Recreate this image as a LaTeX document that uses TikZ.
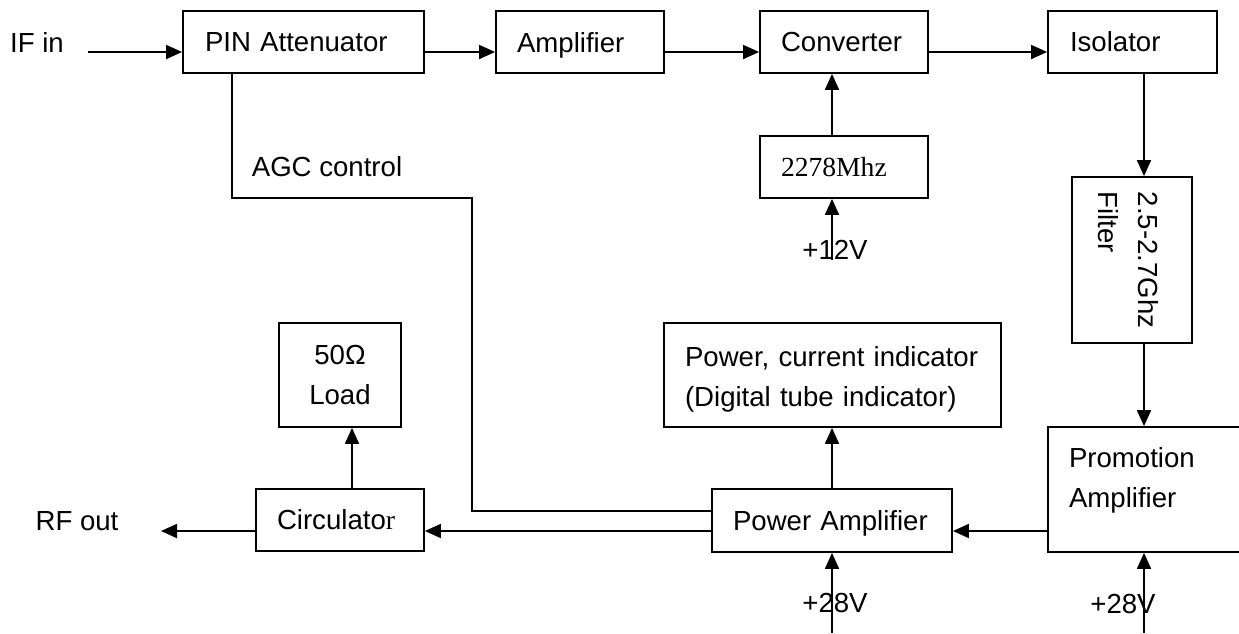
\documentclass[tikz,border=0pt]{standalone}
\usepackage{fontspec}
\setmainfont{Liberation Sans}
\newfontfamily\tnr{Liberation Serif}
\usetikzlibrary{arrows.meta}
\begin{document}
\begin{tikzpicture}[x=1pt,y=-1pt,
  every node/.style={font=\fontsize{27.6}{40}\selectfont},
  blk/.style={draw, line width=1.8pt, inner ysep=0pt},
  lbl/.style={inner sep=0pt},
  arr/.style={line width=1.8pt, -{Triangle[length=16pt,width=14pt]}},
  ln/.style={line width=1.8pt}]
\clip (0,0) rectangle (1239,633);
% boxes
\node[blk, text width=197pt, inner xsep=22pt, minimum height=62pt] (pin) at (303.5,42) {PIN Attenuator};
\node[blk, text width=126pt, inner xsep=21pt, minimum height=62pt, text depth=0pt] (amp) at (580,42) {Amplifier};
\node[blk, text width=126pt, inner xsep=21pt, minimum height=62pt] (conv) at (844,42) {Converter};
\node[blk, text width=125pt, inner xsep=22pt, minimum height=62pt] (iso) at (1132.5,42) {Isolator};
\node[blk, text width=126pt, inner xsep=21pt, minimum height=62pt] (lo) at (844,167) {\tnr 2278Mhz};
\node[blk, inner sep=0pt, minimum width=120pt, minimum height=166pt] (filter) at (1132,260)
  {\rotatebox{-90}{\begin{tabular}{@{}l@{}}2.5-2.7Ghz\\Filter\end{tabular}}\kern12pt};
\node[blk, text width=295pt, inner xsep=21pt, minimum height=104pt, text height=28pt] (ind) at (832.5,375)
  {Power, current indicator\\(Digital tube indicator)};
\node[blk, text width=102pt, inner xsep=10pt, minimum height=104pt, align=center] (load) at (340,375)
  {50Ω\\Load};
\node[blk, text width=126pt, inner xsep=21pt, minimum height=62pt] (circ) at (340,520) {Circulato{\tnr r}};
\node[blk, text width=198pt, inner xsep=21pt, minimum height=63pt, text depth=0pt] (pa) at (832,520.5) {Power Amplifier};
\node[blk, text width=170pt, inner xsep=21pt, minimum height=125pt, text depth=65pt] (promo) at (1154,489.5)
  {Promotion\\Amplifier};
% free labels
\node[lbl] (ifin) at (37,42) {IF in};
\node[lbl] (rfout) at (77,521) {RF out};
\node[lbl] (agc) at (327,167) {AGC control};
\node[lbl] (p12) at (835,250) {+12V};
\node[lbl] (p28a) at (835,603) {+28V};
\node[lbl] (p28b) at (1123,604) {+28V};
% coordinates
\coordinate (ifs) at (88,52);
\coordinate (yb) at (0,531);
\coordinate (rfend) at (161,531);
\coordinate (xl) at (352,0);
\coordinate (xf) at (1144,0);
\coordinate (xc) at (832,0);
\coordinate (v12) at (832,260);
\coordinate (v28a) at (832,633);
\coordinate (v28b) at (1144,633);
\coordinate (agc1) at (232,198);
\coordinate (agc2) at (472,198);
\coordinate (agc3) at (472,511);
% top row
\draw[arr] (ifs) -- (ifs -| pin.west);
\draw[arr] (pin.east |- ifs) -- (amp.west |- ifs);
\draw[arr] (amp.east |- ifs) -- (conv.west |- ifs);
\draw[arr] (conv.east |- ifs) -- (iso.west |- ifs);
% converter LO
\draw[arr] (lo.north -| xc) -- (conv.south -| xc);
\draw[arr] (v12) -- (lo.south -| v12);
% right column
\draw[arr] (iso.south -| xf) -- (filter.north -| xf);
\draw[arr] (filter.south -| xf) -- (promo.north -| xf);
\draw[arr] (v28b) -- (promo.south -| v28b);
% bottom row
\draw[arr] (promo.west |- yb) -- (pa.east |- yb);
\draw[arr] (pa.west |- yb) -- (circ.east |- yb);
\draw[arr] (circ.west |- yb) -- (rfend);
\draw[arr] (circ.north -| xl) -- (load.south -| xl);
\draw[arr] (pa.north) -- (ind.south -| pa.north);
\draw[arr] (v28a) -- (pa.south);
% AGC
\draw[ln] (pin.south -| agc1) -- (agc1) -- (agc2) -- (agc3) -- (agc3 -| pa.west);
\end{tikzpicture}
\end{document}
